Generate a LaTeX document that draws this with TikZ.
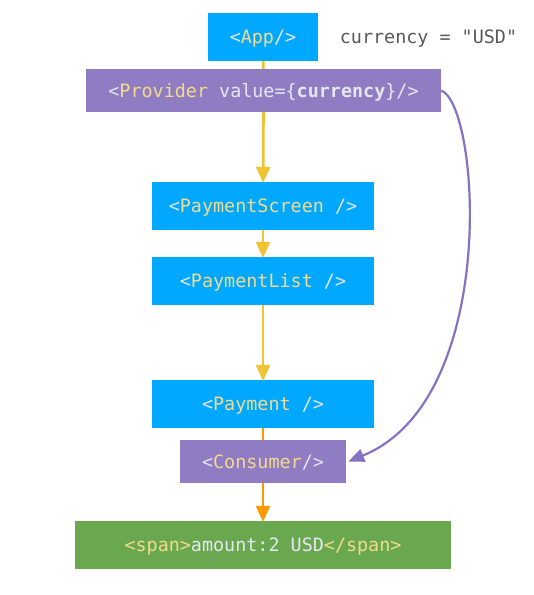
\documentclass[tikz,border=0pt]{standalone}
\usepackage{fontspec}
\setmonofont{DejaVu Sans Mono}
\usetikzlibrary{arrows.meta}
\definecolor{cblue}{HTML}{00A8FF}
\definecolor{cpurple}{HTML}{8F7CC3}
\definecolor{cgreen}{HTML}{6AA84F}
\definecolor{cyel}{HTML}{F1C232}
\definecolor{corange}{HTML}{FF9900}
\definecolor{tyel}{HTML}{F3DA8C}
\definecolor{tlight}{HTML}{E6E6F2}
\definecolor{tgrey}{HTML}{595959}
\definecolor{clav}{HTML}{8672C2}
\newcommand{\ty}[1]{\textcolor{tyel}{#1}}
\newcommand{\tl}[1]{\textcolor{tlight}{#1}}
\tikzset{
  box/.style={rectangle, inner sep=0pt, text depth=0pt, font=\ttfamily\fontsize{18.4}{20}\selectfont, text=tlight},
  bluebox/.style={box, fill=cblue, minimum width=222pt, minimum height=48pt},
  conn/.style={line width=2.8pt, draw=cyel},
  arr/.style={conn, -{Triangle[length=16pt, width=14pt]}, shorten >=-1pt},
}
\begin{document}
\begin{tikzpicture}[x=1pt, y=-1pt]
\useasboundingbox (0,0) rectangle (534,595);
\fill[white] (0,0) rectangle (534,595);
\node[box, fill=cblue, minimum width=110pt, minimum height=48pt] (app) at (263,37) {\tl{<}\ty{App}\tl{/>}};
\node[box, text=tgrey] (cur) at (428.5,37) {currency = "USD"};
\node[box, fill=cpurple, minimum width=355pt, minimum height=43pt] (prov) at (263.5,90.5) {\tl{<}\ty{Provider} \tl{value=\{\textbf{currency}\}/>}};
\node[bluebox] (ps) at (263,206) {\tl{<}\ty{PaymentScreen} \tl{/>}};
\node[bluebox] (pl) at (263,281) {\tl{<}\ty{PaymentList} \tl{/>}};
\node[bluebox] (pay) at (263,404) {\tl{<}\ty{Payment} \tl{/>}};
\node[box, fill=cpurple, minimum width=166pt, minimum height=43pt] (cons) at (263,461.5) {\tl{<}\ty{Consumer}\tl{/>}};
\node[box, fill=cgreen, minimum width=376pt, minimum height=48pt] (span) at (263,545) {\ty{<span>}\tl{amount:2 USD}\ty{</span>}};
\draw[conn] (app) -- (prov);
\draw[arr] (prov) -- (ps);
\draw[arr] (ps) -- (pl);
\draw[arr] (pl) -- (pay);
\draw[conn, draw=corange] (pay) -- (cons);
\draw[arr, draw=corange, fill=corange] (cons) -- (span);
\draw[line width=2.2pt, draw=clav, -{Triangle[length=16pt, width=13pt]}] (prov.east) .. controls (480,105) and (500,400) .. ([xshift=2pt]cons.east);
\end{tikzpicture}
\end{document}
